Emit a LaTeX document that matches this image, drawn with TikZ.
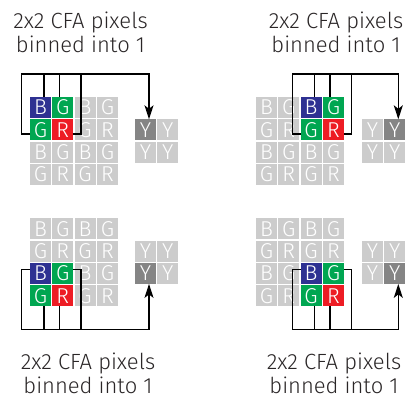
\documentclass[tikz,border=0pt]{standalone}
\usepackage{fontspec}
\setmainfont{Fira Sans}[UprightFont=* Light]
\usetikzlibrary{arrows.meta}
\definecolor{cellgray}{HTML}{CCCCCC}
\definecolor{ydark}{HTML}{858585}
\definecolor{colB}{HTML}{2E3192}
\definecolor{colG}{HTML}{00A651}
\definecolor{colR}{HTML}{ED1C24}
\definecolor{txt}{HTML}{2A2627}
\tikzset{
 cell/.style={minimum size=21pt, inner sep=0pt, outer sep=0pt, text=white, font=\fontsize{21.5}{21.5}\selectfont},
 conn/.style={line width=1.2pt, black},
 arr/.style={-{Stealth[length=14pt,width=9pt,inset=3.5pt]}},
 title/.style={align=center, inner sep=0pt, text depth=0pt, anchor=south, font=\fontsize{22}{24}\selectfont, text=txt},
}
\newcommand\cfapanel[5]{%
 \foreach \r in {0,1,2,3}{%
  \foreach \c in {0,1,2,3}{%
   \ifodd\r\relax \ifodd\c\relax \def\cfaL{R}\else\def\cfaL{G}\fi
   \else \ifodd\c\relax \def\cfaL{G}\else\def\cfaL{B}\fi\fi
   \def\cfafill{cellgray}%
   \ifnum\r<#4\relax\else\ifnum\r>\numexpr#4+1\relax\else
     \ifnum\c<#5\relax\else\ifnum\c>\numexpr#5+1\relax\else
       \edef\cfafill{col\cfaL}%
     \fi\fi\fi\fi
   \node[cell,fill=\cfafill] (#1-\r-\c) at (#2+\c*22.3+10.5, #3+\r*22.3+10.5) {\cfaL};
  }}}
\newcommand\ypanel[5]{%
 \foreach \r in {0,1}{\foreach \c in {0,1}{%
   \def\yfill{cellgray}%
   \ifnum\r=#4\relax\ifnum\c=#5\relax\def\yfill{ydark}\fi\fi
   \node[cell,fill=\yfill] (#1-y-\r-\c) at (#2+\c*22.3+10.5,#3+\r*22.3+10.5) {Y};
 }}}
\begin{document}
\begin{tikzpicture}[x=1pt,y=-1pt]
\useasboundingbox[fill=white] (0,0) rectangle (409,398);
\cfapanel{a}{30}{97}{0}{0}     \ypanel{a}{135}{119.3}{0}{0}
\cfapanel{b}{256}{97}{0}{2}    \ypanel{b}{362}{119.3}{0}{1}
\cfapanel{c}{30}{218.3}{2}{0}  \ypanel{c}{135}{240.6}{1}{0}
\cfapanel{d}{256}{218.3}{2}{2} \ypanel{d}{362}{240.6}{1}{1}
% panel a
\coordinate (a-bus) at ([xshift=-8.3pt,yshift=23pt]a-0-0.north west);
\draw[conn,arr] ([yshift=-4.2pt]a-1-0.west) -| (a-bus) -| ([xshift=3.5pt]a-y-0-0.north);
\draw[conn] ([yshift=-4.2pt]a-1-1.east) -| ([xshift=7.7pt]a-1-1.east |- a-bus);
\draw[conn] ([xshift=3.5pt]a-0-0.north) -- ([xshift=3.5pt]a-0-0.north |- a-bus);
\draw[conn] ([xshift=-3.5pt]a-0-1.north) -- ([xshift=-3.5pt]a-0-1.north |- a-bus);
% panel b
\coordinate (b-bus) at ([xshift=-8.3pt,yshift=23pt]b-0-2.north west);
\draw[conn,arr] ([yshift=-4.2pt]b-1-2.west) -| (b-bus) -| ([xshift=3.5pt]b-y-0-1.north);
\draw[conn] ([yshift=-4.2pt]b-1-3.east) -| ([xshift=7.7pt]b-1-3.east |- b-bus);
\draw[conn] ([xshift=3.5pt]b-0-2.north) -- ([xshift=3.5pt]b-0-2.north |- b-bus);
\draw[conn] ([xshift=-3.5pt]b-0-3.north) -- ([xshift=-3.5pt]b-0-3.north |- b-bus);
% panel c
\coordinate (c-bus) at ([xshift=-8.3pt,yshift=-23pt]c-3-0.south west);
\draw[conn,arr] ([yshift=4.2pt]c-2-0.west) -| (c-bus) -| ([xshift=3.5pt]c-y-1-0.south);
\draw[conn] ([yshift=4.2pt]c-2-1.east) -| ([xshift=7.7pt]c-2-1.east |- c-bus);
\draw[conn] ([xshift=3.5pt]c-3-0.south) -- ([xshift=3.5pt]c-3-0.south |- c-bus);
\draw[conn] ([xshift=-3.5pt]c-3-1.south) -- ([xshift=-3.5pt]c-3-1.south |- c-bus);
% panel d
\coordinate (d-bus) at ([xshift=-8.3pt,yshift=-23pt]d-3-2.south west);
\draw[conn,arr] ([yshift=4.2pt]d-2-2.west) -| (d-bus) -| ([xshift=3.5pt]d-y-1-1.south);
\draw[conn] ([yshift=4.2pt]d-2-3.east) -| ([xshift=7.7pt]d-2-3.east |- d-bus);
\draw[conn] ([xshift=3.5pt]d-3-2.south) -- ([xshift=3.5pt]d-3-2.south |- d-bus);
\draw[conn] ([xshift=-3.5pt]d-3-3.south) -- ([xshift=-3.5pt]d-3-3.south |- d-bus);
% titles
\node[title] (ta) at (80.5,53) {2x2 CFA pixels\\binned into 1};
\node[title] (tb) at (336,53) {2x2 CFA pixels\\binned into 1};
\node[title] (tc) at (88,394) {2x2 CFA pixels\\binned into 1};
\node[title] (td) at (334,394) {2x2 CFA pixels\\binned into 1};
\end{tikzpicture}
\end{document}
